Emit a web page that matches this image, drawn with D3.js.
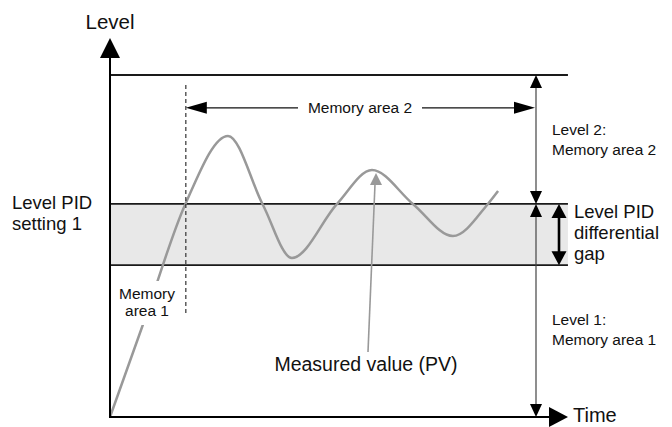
<!DOCTYPE html>
<html lang="en">
<head>
<meta charset="UTF-8" />
<title>Level PID memory areas</title>
<script src="https://d3js.org/d3.v7.min.js"></script>
<style>
  body { margin: 0; background: #fff; }
  svg { display: block; font-family: "Liberation Sans", Arial, sans-serif; }
  text { fill: #111; }
</style>
</head>
<body>
<div id="chart"></div>
<script>
// measured value (PV) curve, time vs level (arbitrary units)
const pvTime  = [0, 7.7, 17.6, 27.7, 35.9, 42.7, 53.3, 61.5, 71.1, 80.5, 88.7, 91.1];
const pvLevel = [0, 26.9, 62.0, 82.2, 62.0, 46.5, 62.3, 72.2, 62.3, 52.9, 62.3, 66.1];

// horizontal reference levels: upper limit, PID band top, PID band bottom
const levelLines = [100, 62.3, 44.4];
const pidBand = [44.4, 62.3];
const memoryBoundary = 17.8;   // time where memory area 2 begins
const axisEnd = [107.5, 100];  // time, level

const width = 672, height = 427;

const svg = d3.select("#chart").append("svg")
  .attr("width", width)
  .attr("height", height);

const x = d3.scaleLinear().domain([0, 100]).range([110, 536]);
const y = d3.scaleLinear().domain([0, 100]).range([417, 75]);

// little triangle helper, dir = up/down/left/right
function arrowHead(px, py, dir, len, half, color) {
  let pts;
  if (dir === "up") pts = [[px, py], [px - half, py + len], [px + half, py + len]];
  if (dir === "down") pts = [[px, py], [px - half, py - len], [px + half, py - len]];
  if (dir === "left") pts = [[px, py], [px + len, py - half], [px + len, py + half]];
  if (dir === "right") pts = [[px, py], [px - len, py - half], [px - len, py + half]];
  svg.append("path")
    .attr("d", "M" + pts.join("L") + "Z")
    .attr("fill", color);
}

// PID band
svg.append("rect")
  .attr("x", x(0))
  .attr("y", y(pidBand[1]))
  .attr("width", x(axisEnd[0]) - x(0))
  .attr("height", y(pidBand[0]) - y(pidBand[1]))
  .attr("fill", "#e8e8e8");

svg.selectAll(".level-line")
  .data(levelLines)
  .enter().append("line")
  .attr("class", "level-line")
  .attr("x1", x(0)).attr("x2", x(axisEnd[0]))
  .attr("y1", d => y(d)).attr("y2", d => y(d))
  .attr("stroke", "#1a1a1a")
  .attr("stroke-width", 1.8);

// PV curve
const line = d3.line()
  .x(d => x(d[0]))
  .y(d => y(d[1]))
  .curve(d3.curveMonotoneX);

svg.append("path")
  .datum(d3.zip(pvTime, pvLevel))
  .attr("d", line)
  .attr("fill", "none")
  .attr("stroke", "#999")
  .attr("stroke-width", 2.5);

// memory area 1 / 2 boundary
svg.append("line")
  .attr("x1", x(memoryBoundary)).attr("x2", x(memoryBoundary))
  .attr("y1", y(97.1)).attr("y2", y(30.4))
  .attr("stroke", "#333")
  .attr("stroke-width", 1.2)
  .attr("stroke-dasharray", "4,3");

// memory area 2 span arrow
const spanY = y(90.4);
svg.append("line")
  .attr("x1", x(memoryBoundary) + 10).attr("x2", x(100) - 10)
  .attr("y1", spanY).attr("y2", spanY)
  .attr("stroke", "#111").attr("stroke-width", 1.2);
arrowHead(x(memoryBoundary), spanY, "left", 21, 6, "#000");
arrowHead(x(100) - 1, spanY, "right", 21, 6, "#000");
svg.append("rect")
  .attr("x", 298).attr("y", spanY - 9)
  .attr("width", 124).attr("height", 18)
  .attr("fill", "#fff");
svg.append("text")
  .attr("x", 360).attr("y", spanY + 5.5)
  .attr("text-anchor", "middle")
  .style("font-size", "15.5px")
  .text("Memory area 2");

// level 2 / level 1 span arrows on the right
const rx = x(100);
[[levelLines[0], levelLines[1]], [levelLines[1], 0]].forEach(([top, bot]) => {
  svg.append("line")
    .attr("x1", rx).attr("x2", rx)
    .attr("y1", y(top) + 6).attr("y2", y(bot) - 6)
    .attr("stroke", "#444").attr("stroke-width", 1.2);
  arrowHead(rx, y(top), "up", 13, 6, "#000");
  arrowHead(rx, y(bot), "down", 13, 6, "#000");
});

// differential gap double arrow
const gx = 559;
svg.append("line")
  .attr("x1", gx).attr("x2", gx)
  .attr("y1", y(pidBand[1]) + 8).attr("y2", y(pidBand[0]) - 8)
  .attr("stroke", "#000").attr("stroke-width", 2.6);
arrowHead(gx, y(pidBand[1]), "up", 14, 7.5, "#000");
arrowHead(gx, y(pidBand[0]), "down", 14, 7.5, "#000");

// axes
svg.append("line")
  .attr("x1", x(0)).attr("x2", x(0))
  .attr("y1", y(0) + 1).attr("y2", 52)
  .attr("stroke", "#000").attr("stroke-width", 2);
arrowHead(x(0), 38, "up", 20, 10, "#000");
svg.append("line")
  .attr("x1", x(0) - 1).attr("x2", 556)
  .attr("y1", y(0)).attr("y2", y(0))
  .attr("stroke", "#000").attr("stroke-width", 2);
arrowHead(568, y(0), "right", 19, 10, "#000");

svg.append("text")
  .attr("x", x(0)).attr("y", 29)
  .attr("text-anchor", "middle")
  .style("font-size", "20.5px")
  .text("Level");
svg.append("text")
  .attr("x", 573).attr("y", 422)
  .style("font-size", "20px")
  .text("Time");

// PV pointer
svg.append("line")
  .attr("x1", 368).attr("y1", 352)
  .attr("x2", 375).attr("y2", 184)
  .attr("stroke", "#999").attr("stroke-width", 1.6);
arrowHead(376, 173, "up", 12, 6, "#999");
svg.append("text")
  .attr("x", 366).attr("y", 371)
  .attr("text-anchor", "middle")
  .style("font-size", "19.5px")
  .text("Measured value (PV)");

// memory area 1 label (covers the curve)
svg.append("rect")
  .attr("x", 117).attr("y", 281)
  .attr("width", 61).attr("height", 44)
  .attr("fill", "#fff");
function multiline(lines, px, py, size, gap, anchor) {
  svg.append("text")
    .attr("text-anchor", anchor)
    .style("font-size", size + "px")
    .selectAll("tspan")
    .data(lines)
    .enter().append("tspan")
    .attr("x", px)
    .attr("y", (d, i) => py + i * gap)
    .text(d => d);
}
multiline(["Memory", "area 1"], 147, 299, 15.5, 17, "middle");
multiline(["Level PID", "setting 1"], 12, 209, 18.5, 21, "start");
multiline(["Level PID", "differential", "gap"], 574, 218, 18.5, 21, "start");
multiline(["Level 2:", "Memory area 2"], 552, 135, 15.5, 20, "start");
multiline(["Level 1:", "Memory area 1"], 552, 325, 15.5, 20, "start");
</script>
</body>
</html>
